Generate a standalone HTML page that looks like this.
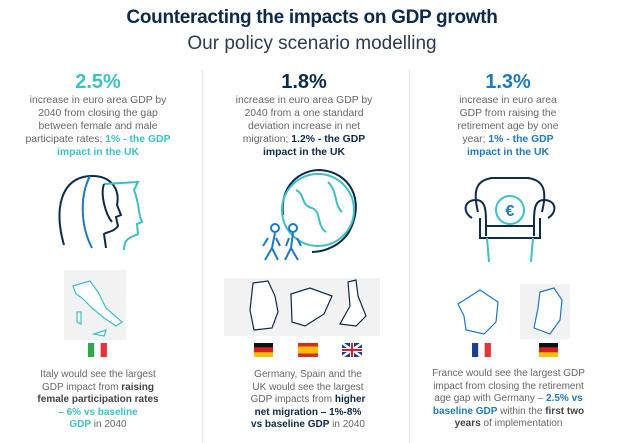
<!DOCTYPE html>
<html><head><meta charset="utf-8"><style>
*{margin:0;padding:0;box-sizing:border-box}
body{width:624px;height:443px;background:#fff;font-family:"Liberation Sans",sans-serif;position:relative;overflow:hidden}
.abs{position:absolute}
.title{left:0;width:624px;text-align:center;top:7px;font-size:19px;font-weight:bold;color:#0d2a4a;letter-spacing:-0.3px}
.sub{left:0;width:624px;text-align:center;top:33px;font-size:19px;color:#2a3b4e}
.div{width:1px;background:#e6e6e6;top:70px;height:373px}
.num{font-size:20px;font-weight:bold;text-align:center;line-height:24px}
.txt{font-size:10.4px;line-height:13px;color:#666;text-align:center}
.bt{font-size:10px;line-height:12.6px;color:#666;text-align:center}
.b{font-weight:bold}
.teal{color:#3cc0c6}.navy{color:#0d2a4a}.blue{color:#1f78c0}
</style></head><body>
<div class="abs title">Counteracting the impacts on GDP growth</div>
<div class="abs sub">Our policy scenario modelling</div>
<div class="abs div" style="left:202px"></div>
<div class="abs div" style="left:409px"></div>

<div class="abs num teal" style="left:-2px;width:200px;top:70px">2.5%</div>
<div class="abs txt" style="left:3px;width:190px;top:94px">increase in euro area GDP by<br>2040 from closing the gap<br>between female and male<br>participate rates; <span class="b teal">1% - the GDP<br>impact in the UK</span></div>

<div class="abs num navy" style="left:204px;width:200px;top:70px">1.8%</div>
<div class="abs txt" style="left:209px;width:190px;top:94px">increase in euro area GDP by<br>2040 from a one standard<br>deviation increase in net<br>migration; <span class="b navy">1.2% - the GDP<br>impact in the UK</span></div>

<div class="abs num blue" style="left:408px;width:200px;top:70px">1.3%</div>
<div class="abs txt" style="left:413px;width:190px;top:94px">increase in euro area<br>GDP from raising the<br>retirement age by one<br>year; <span class="b blue">1% - the GDP<br>impact in the UK</span></div>

<svg class="abs" style="left:0;top:0" width="624" height="443">
 <g fill="none" stroke-width="2">
  <path d="M64 245 C54 210 60 178 90 176 C112 175 120 190 117 205 L121 215 L116 217 L118 226 C114 232 106 232 104 234 L106 248" stroke="#0d2a4a"/>
  <path d="M90 176 C80 195 80 225 92 248" stroke="#1f78c0"/>
  <path d="M104 184 L138 182 L134 190 C140 205 138 215 142 222 L137 224 L138 234 C130 238 124 238 124 250" stroke="#3cc0c6"/>
  <path d="M104 184 C100 195 106 215 112 222" stroke="#0d2a4a"/>
 </g>
 <g fill="none" stroke-width="2">
  <path d="M283 215 C280 185 300 170 320 170 C350 172 365 200 350 230 C342 245 325 252 312 252" stroke="#0d2a4a"/>
  <circle cx="318" cy="210" r="36" stroke="#3cc0c6"/>
  <path d="M296 190 C306 195 300 205 312 208 C322 212 316 225 326 232 M328 182 C338 192 334 205 342 212" stroke="#3cc0c6"/>
  <circle cx="275" cy="228" r="4" stroke="#1f78c0"/><path d="M275 233 L272 248 L265 260 M272 248 L278 260 M268 238 L263 246 M276 238 L280 246" stroke="#1f78c0"/>
  <circle cx="293" cy="228" r="4" stroke="#1f78c0"/><path d="M293 233 L291 248 L285 260 M291 248 L298 260 M297 238 L301 246 M289 238 L286 246" stroke="#1f78c0"/>
 </g>
 <g fill="none" stroke-width="2">
  <path d="M478 212 C472 188 478 180 492 178 L528 178 C542 180 548 188 542 212 M472 218 C462 212 464 200 476 200 C486 200 486 212 486 222 L486 236 M548 218 C558 212 556 200 544 200 C534 200 534 212 534 222 L534 236 M480 218 L480 238 L540 238 L540 218 M486 226 L534 226" stroke="#0d2a4a"/>
  <path d="M487 238 L489 262 M533 238 L531 262" stroke="#3cc0c6"/>
  <circle cx="510" cy="210" r="14" stroke="#3cc0c6"/>
  <text x="510" y="216" text-anchor="middle" font-size="16" font-weight="bold" fill="#1f78c0" stroke="none" font-family="Liberation Sans">€</text>
 </g>
 <g stroke-width="1.2">
  <rect x="64" y="270" width="62" height="70" fill="#f2f2f2"/>
  <path d="M73 286 L90 281 L98 292 L106 308 L122 322 L116 326 L104 318 L92 308 L82 298 L76 294 Z" fill="#fff" stroke="#3cc0c6"/>
  <path d="M77 312 L81 312 L81 324 L77 322 Z M94 334 L106 330 L104 336 Z" fill="#fff" stroke="#3cc0c6"/>
  <rect x="224" y="278" width="156" height="58" fill="#f2f2f2"/>
  <path d="M253 283 L268 281 L275 296 L278 312 L272 328 L254 330 L250 310 Z" fill="#fff" stroke="#0d2a4a"/>
  <path d="M291 294 L310 288 L332 296 L324 314 L305 326 L292 322 Z" fill="#fff" stroke="#0d2a4a"/>
  <path d="M348 282 L356 280 L358 296 L366 316 L356 326 L340 324 L350 306 Z" fill="#fff" stroke="#0d2a4a"/>
  <rect x="520" y="284" width="50" height="55" fill="#f2f2f2"/>
  <path d="M458 304 L480 290 L498 302 L496 322 L484 334 L466 330 L464 316 Z" fill="#fff" stroke="#1f78c0"/>
  <path d="M540 292 L554 288 L562 300 L560 320 L550 334 L534 328 L538 308 Z" fill="#fff" stroke="#1f78c0"/>
 </g>
 <g>
  <rect x="88" y="343" width="6.3" height="14" fill="#2ea84a"/><rect x="94.3" y="343" width="6.3" height="14" fill="#fff"/><rect x="100.6" y="343" width="6.3" height="14" fill="#e3343c"/>
  <rect x="254" y="343" width="19" height="4.7" fill="#111"/><rect x="254" y="347.7" width="19" height="4.7" fill="#dd1b1b"/><rect x="254" y="352.4" width="19" height="4.6" fill="#f5c400"/>
  <rect x="298" y="343" width="20" height="14" fill="#d62b1f"/><rect x="298" y="346.5" width="20" height="7" fill="#f6c000"/>
  <rect x="342" y="343" width="20" height="14" fill="#1c3a8a"/><path d="M342 343 L362 357 M362 343 L342 357" stroke="#fff" stroke-width="2.5"/><path d="M352 343 V357 M342 350 H362" stroke="#fff" stroke-width="4"/><path d="M352 343 V357 M342 350 H362" stroke="#d6212b" stroke-width="2"/>
  <rect x="472" y="343" width="6.3" height="14" fill="#1f3c99"/><rect x="478.3" y="343" width="6.3" height="14" fill="#fff"/><rect x="484.6" y="343" width="6.3" height="14" fill="#e3343c"/>
  <rect x="539" y="343" width="19" height="4.7" fill="#111"/><rect x="539" y="347.7" width="19" height="4.7" fill="#dd1b1b"/><rect x="539" y="352.4" width="19" height="4.6" fill="#f5c400"/>
 </g>
</svg>

<div class="abs bt" style="left:3px;width:190px;top:369px">Italy would see the largest<br>GDP impact from <span class="b" style="color:#444">raising<br>female participation rates</span><br><span class="b teal">– 6% vs baseline<br>GDP</span> in 2040</div>
<div class="abs bt" style="left:213px;width:190px;top:369px">Germany, Spain and the<br>UK would see the largest<br>GDP impacts from <span class="b navy">higher<br>net migration – 1%-8%<br>vs baseline GDP</span> in 2040</div>
<div class="abs bt" style="left:411px;width:195px;top:368px">France would see the largest GDP<br>impact from closing the retirement<br>age gap with Germany – <span class="b blue">2.5% vs<br>baseline GDP</span> within the <span class="b" style="color:#444">first two<br>years</span> of implementation</div>
</body></html>
